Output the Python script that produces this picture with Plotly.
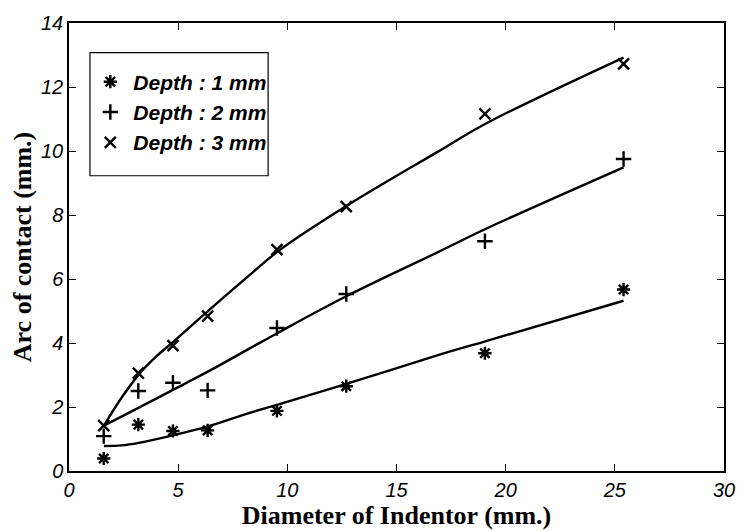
import plotly.graph_objects as go

# Indentor diameters (mm): 1/16" ... 1"
diameter = [1.59, 3.175, 4.76, 6.35, 9.525, 12.7, 19.05, 25.4]

# Measured arc of contact (mm) for each indentation depth
arc_depth1 = [0.39, 1.45, 1.25, 1.27, 1.88, 2.65, 3.68, 5.67]
arc_depth2 = [1.09, 2.50, 2.76, 2.52, 4.47, 5.53, 7.18, 9.75]
arc_depth3 = [1.42, 3.06, 3.92, 4.84, 6.92, 8.26, 11.16, 12.72]

# Fitted trend curves, sampled along the diameter axis
fit1_x = [1.6, 2.4, 3.2, 4.8, 6.4, 8.2, 9.6, 12.7, 16.9, 19.1, 25.4]
fit1_y = [0.78, 0.80, 0.88, 1.12, 1.40, 1.80, 2.08, 2.72, 3.62, 4.06, 5.32]
fit2_x = [1.6, 3.2, 4.8, 6.4, 8.2, 9.6, 12.7, 16.9, 19.1, 25.4]
fit2_y = [1.42, 1.98, 2.55, 3.12, 3.80, 4.33, 5.46, 6.84, 7.57, 9.49]
fit3_x = [1.6, 2.4, 3.2, 4.0, 4.8, 6.4, 8.2, 9.6, 12.7, 16.9, 19.1, 25.4]
fit3_y = [1.42, 2.28, 3.02, 3.58, 4.05, 5.02, 6.08, 6.88, 8.28, 9.98, 10.86, 12.92]

labels = ["Depth : 1 mm", "Depth : 2 mm", "Depth : 3 mm"]
symbols = ["asterisk-open", "cross-thin-open", "x-thin-open"]

x_ticks = [0, 5, 10, 15, 20, 25, 30]
y_ticks = [0, 2, 4, 6, 8, 10, 12, 14]

fig = go.Figure()

for fx, fy in ((fit1_x, fit1_y), (fit2_x, fit2_y), (fit3_x, fit3_y)):
    fig.add_trace(go.Scatter(
        x=fx, y=fy, mode="lines",
        line=dict(color="black", width=2.4, shape="spline", smoothing=1.0),
        showlegend=False, hoverinfo="skip",
    ))

for i, (ys, name, sym) in enumerate(zip((arc_depth1, arc_depth2, arc_depth3), labels, symbols)):
    fig.add_trace(go.Scatter(
        x=diameter, y=ys, mode="markers", name=f"<b><i>{name}</i></b>",
        legendgroup=f"g{i}",
        marker=dict(symbol=sym, size=11, color="black",
                    line=dict(color="black", width=2.4)),
    ))

tick_font = dict(family="Liberation Sans", size=20, color="black")

axis_common = dict(
    showline=True, linecolor="black", linewidth=1.5, mirror="ticks",
    ticks="inside", ticklen=7, tickwidth=1.3, tickcolor="black",
    showgrid=False, zeroline=False, tickfont=tick_font,
)

fig.update_xaxes(range=[0, 30], tickvals=x_ticks,
                 ticktext=[f"<i>{v}</i>" for v in x_ticks],
                 title=dict(text="<b>Diameter of Indentor (mm.)</b>",
                            font=dict(family="Liberation Serif", size=26, color="black"),
                            standoff=0),
                 **axis_common)
fig.update_yaxes(range=[0, 14], tickvals=y_ticks,
                 ticktext=[f"<i>{v}</i>" for v in y_ticks],
                 title=dict(text="<b>Arc of contact (mm.)</b>",
                            font=dict(family="Liberation Serif", size=26, color="black"),
                            standoff=2),
                 **axis_common)

# Legend frame
fig.add_shape(type="rect", xref="paper", yref="paper",
              x0=0.032, x1=0.304, y0=0.659, y1=0.934,
              line=dict(color="black", width=1.2), fillcolor="white", layer="below")

fig.update_layout(
    width=747, height=531,
    margin=dict(l=69, r=17, t=17, b=60),
    paper_bgcolor="white", plot_bgcolor="white",
    legend=dict(
        x=0.028, y=0.914, xanchor="left", yanchor="top",
        bgcolor="rgba(0,0,0,0)", borderwidth=0,
        font=dict(family="Liberation Sans", size=21, color="black"),
        traceorder="grouped", tracegroupgap=0,
        itemwidth=36,
    ),
)

fig.write_html("out.html")
